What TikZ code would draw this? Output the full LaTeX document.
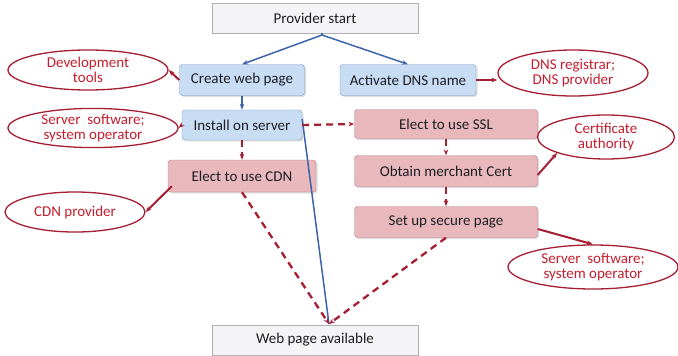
\documentclass[tikz,border=0pt]{standalone}
\usepackage{fontspec}
\setmainfont{Carlito}
\usepackage{tikz}
\usetikzlibrary{arrows.meta, positioning, shapes, shadows}

\definecolor{bluefill}{RGB}{200,221,244}
\definecolor{blueline}{RGB}{120,150,195}
\definecolor{bluearrow}{RGB}{60,100,170}
\definecolor{redfill}{RGB}{232,184,188}
\definecolor{redline}{RGB}{185,125,130}
\definecolor{redarrow}{RGB}{165,30,50}
\definecolor{redtext}{RGB}{195,30,45}
\definecolor{grayfill}{RGB}{244,244,246}
\definecolor{grayline}{RGB}{175,175,180}
\definecolor{boxtext}{RGB}{30,30,35}

\tikzset{
    box/.style={draw, rounded corners=3pt, minimum height=31pt, align=center, text=boxtext, font=\fontsize{15}{17}\selectfont, drop shadow={opacity=0.25, shadow xshift=1.5pt, shadow yshift=-1.5pt}},
    bluebox/.style={box, fill=bluefill, draw=blueline},
    redbox/.style={box, fill=redfill, draw=redline},
    graybox/.style={draw=grayline, fill=grayfill, text=boxtext, minimum width=206pt, minimum height=30pt, font=\fontsize{15}{17}\selectfont},
    actor/.style={ellipse, draw=redarrow, line width=1.3pt, text=redtext, align=center, inner sep=0pt, font=\fontsize{15}{15}\selectfont},
    flow/.style={-{Stealth[length=6pt]}, bluearrow, line width=1.5pt},
    uses/.style={-{Stealth[length=6pt]}, redarrow, line width=2pt},
    opt/.style={-{Stealth[length=6pt]}, redarrow, line width=2.3pt, dash pattern=on 7pt off 5pt},
}

\begin{document}
\begin{tikzpicture}[x=1pt, y=-1pt]
    \useasboundingbox (0,0) rectangle (678,356);

    % main steps
    \node[graybox] (start) at (315,18) {Provider start};
    \node[bluebox, minimum width=125pt] (create) at (242,80) {Create web page};
    \node[bluebox, minimum width=136pt] (dns) at (408,80) {Activate DNS name};
    \node[bluebox, minimum width=120pt, minimum height=30pt] (install) at (242,125) {Install on server};
    \node[redbox, minimum width=148pt, minimum height=32pt] (cdn) at (242,176) {Elect to use CDN};
    \node[redbox, minimum width=183pt, minimum height=29pt] (ssl) at (446,124) {Elect to use SSL};
    \node[redbox, minimum width=183pt] (cert) at (446,171) {Obtain merchant Cert};
    \node[redbox, minimum width=183pt] (secure) at (446,222) {Set up secure page};
    \node[graybox] (avail) at (315,340) {Web page available};

    % who provides it
    \node[actor, minimum width=160pt, minimum height=40pt] (devtools) at (88,70) {Development\\tools};
    \node[actor, minimum width=170pt, minimum height=36pt] (srvleft) at (93,128) {Server\ \ software;\\system operator};
    \node[actor, minimum width=140pt, minimum height=40pt] (cdnprov) at (75,212) {CDN provider};
    \node[actor, minimum width=150pt, minimum height=46pt] (registrar) at (573,73) {DNS registrar;\\DNS provider};
    \node[actor, minimum width=137pt, minimum height=44pt] (ca) at (606,137) {Certificate\\authority};
    \node[actor, minimum width=170pt, minimum height=44pt] (srvright) at (593,267) {Server\ \ software;\\system operator};

    \coordinate (fork) at (322,35);
    \coordinate (meet) at (329,324);

    % provider flow
    \draw[bluearrow, line width=1.5pt] (start.south) ++(7,0) -- (fork);
    \draw[flow] (fork) -- (create.north);
    \draw[flow] (fork) -- (dns.north);
    \draw[flow] (create) -- (install);
    \draw[bluearrow, line width=1.5pt] (install.east) ++(0,-6) -- (meet);

    % optional steps
    \draw[opt] (install) -- (cdn);
    \draw[opt] (install.east) -- (ssl.west);
    \draw[opt] (ssl) -- (cert);
    \draw[opt] (cert) -- (secure);
    \draw[opt] (cdn.south) -- (meet);
    \draw[opt] (secure.south) -- (meet);

    % parties
    \draw[uses] (create.west) -- (devtools.east);
    \draw[uses] (install.west) -- (srvleft.east);
    \draw[uses] (cdn.south west) ++(4,-6) -- (cdnprov.east);
    \draw[uses] (dns.east) -- (dns.east -| registrar.west);
    \draw[uses] (cert.east) ++(0,4) -- (ca.south west);
    \draw[uses] (secure.east) ++(0,7) -- (srvright.north);
\end{tikzpicture}
\end{document}
